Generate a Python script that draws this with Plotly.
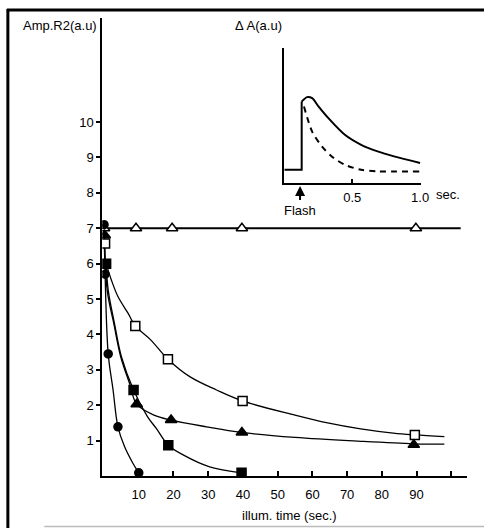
import plotly.graph_objects as go

W, H = 492, 528
def px(x): return x / W
def py(y): return 1 - y / H

# ---------------- main data ----------------
x_ticks = [10, 20, 30, 40, 50, 60, 70, 80, 90, 100]
x_ticklabels = ["10", "20", "30", "40", "50", "60", "70", "80", "90", ""]
y_ticks = [1, 2, 3, 4, 5, 6, 7, 8, 9, 10]

open_tri_x = [0, 9.2, 19.6, 39.7, 89.8]
open_tri_y = [7.0, 7.0, 7.0, 7.0, 7.0]
open_tri_line_x = [0, 102.7]
open_tri_line_y = [7.0, 7.0]

open_sq_x = [0.3, 9.0, 18.4, 39.9, 89.5]
open_sq_y = [6.57, 4.24, 3.30, 2.12, 1.16]
open_sq_curve_x = [0.6, 2.1, 4.0, 6.9, 9.0, 13.5, 18.4, 24.8, 32.4, 39.9, 55, 64.4, 73.9, 83.3, 89.5, 98]
open_sq_curve_y = [6.0, 5.54, 5.07, 4.6, 4.24, 3.84, 3.30, 2.80, 2.43, 2.12, 1.72, 1.50, 1.33, 1.21, 1.16, 1.11]

fill_tri_x = [0.2, 9.4, 19.3, 39.7, 89.2]
fill_tri_y = [6.8, 2.03, 1.58, 1.23, 0.88]
fill_tri_curve_x = [0.2, 0.9, 2.8, 4.8, 7.4, 9.4, 14.4, 19.3, 29.5, 39.7, 55, 73.9, 89.2, 98]
fill_tri_curve_y = [6.8, 5.25, 4.31, 3.37, 2.6, 2.03, 1.72, 1.58, 1.39, 1.23, 1.09, 0.98, 0.91, 0.90]

fill_sq_x = [0.6, 8.5, 18.5, 39.6]
fill_sq_y = [6.0, 2.43, 0.87, 0.09]
fill_sq_curve_x = [0.6, 1.2, 3.0, 5.0, 8.5, 12.5, 15.0, 18.5, 22.9, 30.4, 39.6]
fill_sq_curve_y = [6.0, 5.25, 4.31, 3.37, 2.43, 1.68, 1.35, 0.87, 0.59, 0.26, 0.09]

circ_x = [0, 0.3, 1.2, 4.0, 10.0]
circ_y = [7.1, 5.7, 3.45, 1.39, 0.09]
circ_curve_x = [0, 0.3, 1.2, 2.6, 4.0, 5.9, 8.3, 10.0]
circ_curve_y = [7.1, 5.7, 3.45, 2.43, 1.39, 0.83, 0.36, 0.09]

# ---------------- inset data ----------------
inset_ticks = [0.5, 1.0]
inset_ticklabels = ["0.5", "1.0"]
base_x = [0, 0.128, 0.128]
base_y = [0.098, 0.098, 0.603]
solid_x = [0.128, 0.168, 0.205, 0.253, 0.325, 0.446, 0.566, 0.687, 0.808, 1.0]
solid_y = [0.603, 0.636, 0.628, 0.566, 0.480, 0.357, 0.283, 0.234, 0.197, 0.148]
dash_x = [0.145, 0.205, 0.277, 0.349, 0.446, 0.566, 0.687, 1.0]
dash_y = [0.566, 0.381, 0.271, 0.197, 0.135, 0.098, 0.086, 0.086]

FONT = "Liberation Sans, Arial, sans-serif"
fig = go.Figure()

line = dict(color="black", width=1.3, shape="spline", smoothing=1.0)
for cx, cy in [(open_sq_curve_x, open_sq_curve_y), (fill_tri_curve_x, fill_tri_curve_y),
               (fill_sq_curve_x, fill_sq_curve_y), (circ_curve_x, circ_curve_y)]:
    fig.add_trace(go.Scatter(x=cx, y=cy, mode="lines", line=line, showlegend=False, hoverinfo="skip"))
fig.add_trace(go.Scatter(x=open_tri_line_x, y=open_tri_line_y, mode="lines",
                         line=dict(color="black", width=2), showlegend=False))

def mk(x, y, sym, size, fill="black"):
    fig.add_trace(go.Scatter(x=x, y=y, mode="markers", showlegend=False,
                             marker=dict(symbol=sym, size=size, color=fill,
                                         line=dict(color="black", width=1.5))))

mk(open_tri_x, open_tri_y, "triangle-up", 10, "white")
mk(open_sq_x, open_sq_y, "square", 9, "white")
mk(fill_tri_x, fill_tri_y, "triangle-up", 10)
mk(fill_sq_x, fill_sq_y, "square", 9)
mk(circ_x, circ_y, "circle", 8)

# inset
fig.add_trace(go.Scatter(x=base_x, y=base_y, mode="lines", xaxis="x2", yaxis="y2",
                         line=dict(color="black", width=2), showlegend=False))
fig.add_trace(go.Scatter(x=solid_x, y=solid_y, mode="lines", xaxis="x2", yaxis="y2",
                         line=dict(color="black", width=2, shape="spline", smoothing=0.8), showlegend=False))
fig.add_trace(go.Scatter(x=dash_x, y=dash_y, mode="lines", xaxis="x2", yaxis="y2",
                         line=dict(color="black", width=2, shape="spline", smoothing=0.8, dash="6px,5px"),
                         showlegend=False))

tickfont = dict(family=FONT, size=13, color="black")
fig.update_layout(
    width=W, height=H, margin=dict(l=0, r=0, t=0, b=0),
    plot_bgcolor="white", paper_bgcolor="white", showlegend=False,
    xaxis=dict(domain=[px(104), px(475)], range=[-0.5, 104.6], showgrid=False, zeroline=False,
               showline=True, linecolor="black", linewidth=2, ticks="inside", ticklen=5,
               tickwidth=1.5, tickcolor="black", tickvals=x_ticks, ticktext=x_ticklabels,
               tickfont=tickfont, ticklabelstandoff=5),
    yaxis=dict(domain=[py(476), py(18)], range=[0, 12.94], showgrid=False, zeroline=False,
               showline=True, linecolor="black", linewidth=2, ticks="outside", ticklen=4,
               tickwidth=1.5, tickcolor="black", tickvals=y_ticks, tickfont=tickfont),
    xaxis2=dict(domain=[px(289), px(428)], range=[0, 1.007], anchor="y2", showgrid=False,
                zeroline=False, showline=True, linecolor="black", linewidth=2, ticks="inside",
                ticklen=4, tickwidth=1.5, tickcolor="black", tickvals=inset_ticks,
                ticktext=inset_ticklabels, tickfont=tickfont, ticklabelstandoff=1),
    yaxis2=dict(domain=[py(183), py(48)], range=[0, 1], anchor="x2", showgrid=False,
                zeroline=False, showline=True, linecolor="black", linewidth=2,
                showticklabels=False, ticks=""),
)

ann = dict(font=dict(family=FONT, size=13, color="black"), showarrow=False, xref="paper", yref="paper")
fig.add_annotation(text="Amp.R2(a.u)", x=px(101), y=py(25), xanchor="right", yanchor="middle", **ann)
fig.add_annotation(text="Δ A(a.u)", x=px(289), y=py(25), xanchor="right", yanchor="middle", **ann)
fig.add_annotation(text="illum. time (sec.)", x=px(294), y=py(515), xanchor="center", yanchor="middle", **ann)
fig.add_annotation(text="sec.", x=px(441), y=py(194), xanchor="left", yanchor="middle", **ann)
fig.add_annotation(text="Flash", x=px(305), y=py(210), xanchor="center", yanchor="middle", **ann)
# flash arrow (pointing up at the flash time)
fig.add_shape(type="line", xref="paper", yref="paper", x0=px(305), x1=px(305), y0=py(190), y1=py(200),
              line=dict(color="black", width=2))
fig.add_annotation(text="", x=px(305), y=py(186), xref="paper", yref="paper", showarrow=True,
                   axref="pixel", ayref="pixel", ax=0, ay=12, arrowhead=2, arrowsize=1,
                   arrowwidth=2, arrowcolor="black")

# frame
fig.add_shape(type="line", xref="paper", yref="paper", x0=px(8), x1=px(8), y0=py(9), y1=0,
              line=dict(color="black", width=3))
fig.add_shape(type="line", xref="paper", yref="paper", x0=px(7), x1=1, y0=py(10), y1=py(10),
              line=dict(color="black", width=3))
fig.add_shape(type="line", xref="paper", yref="paper", x0=px(45), x1=px(492), y0=py(526.5), y1=py(526.5),
              line=dict(color="#bbbbbb", width=1.5))

fig.write_html("out.html")
